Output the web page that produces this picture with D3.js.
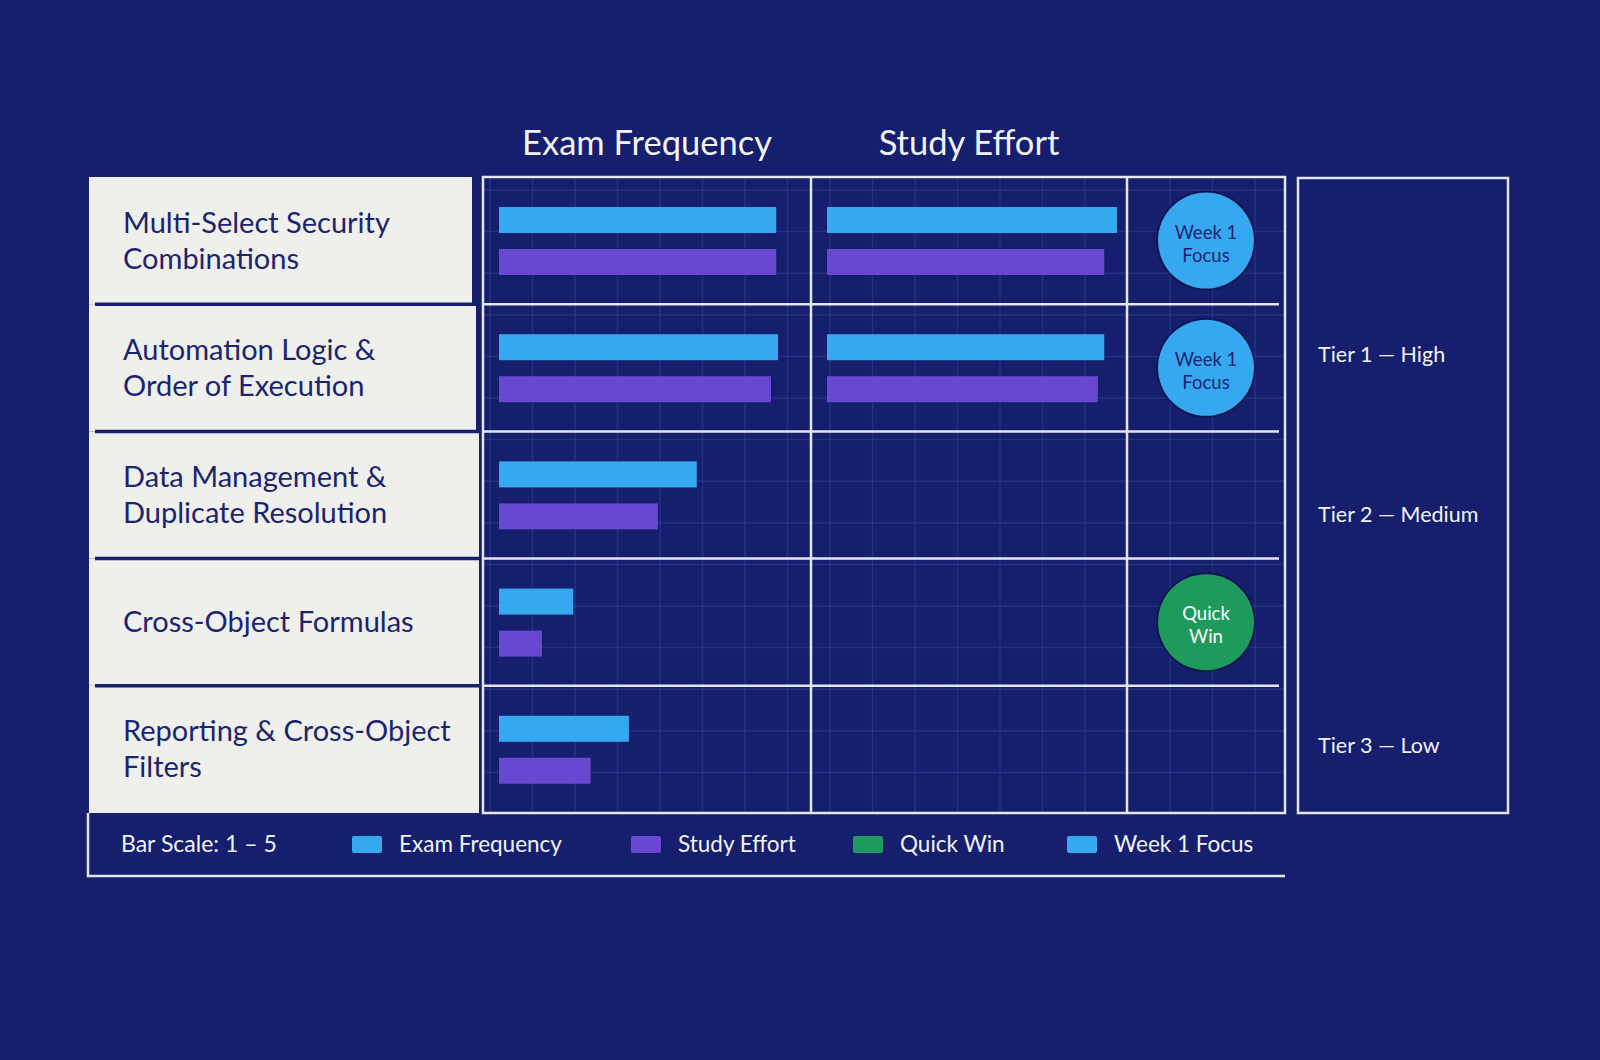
<!DOCTYPE html>
<html>
<head>
<meta charset="utf-8">
<script src="https://cdn.jsdelivr.net/npm/d3@7"></script>
<style>
  html, body { margin: 0; padding: 0; background: #151f6e; }
  #chart { width: 1600px; height: 1060px; }
</style>
</head>
<body>
<div id="chart"></div>
<script>

// ---- data ----
const topics = [
  ['Multi-Select Security', 'Combinations'],
  ['Automation Logic &', 'Order of Execution'],
  ['Data Management &', 'Duplicate Resolution'],
  ['Cross-Object Formulas'],
  ['Reporting & Cross-Object', 'Filters']
];
const columnTitles = ['Exam Frequency', 'Study Effort'];

// column "Exam Frequency": blue + purple bar per topic
const freqColBlue   = [4.78, 4.81, 3.41, 1.28, 2.24];
const freqColPurple = [4.78, 4.69, 2.74, 0.74, 1.58];
// column "Study Effort": only the first two topics have bars
const effortColBlue   = [5.00, 4.78, null, null, null];
const effortColPurple = [4.78, 4.67, null, null, null];

const badges = ['Week 1 Focus', 'Week 1 Focus', null, 'Quick Win', null];

const tiers      = ['Tier 1 \u2014 High', 'Tier 2 \u2014 Medium', 'Tier 3 \u2014 Low'];
const tierRowPos = [1.40, 2.66, 4.47];   // position in row units

const legendScaleText = 'Bar Scale: 1 \u2013 5';
const legendItems = ['Exam Frequency', 'Study Effort', 'Quick Win', 'Week 1 Focus'];

// ---- styling ----
const colors = {
  bg:     '#151f6e',
  line:   '#e4e7f2',
  card:   '#efefeb',
  ink:    '#1b2470',
  blue:   '#35a8f0',
  purple: '#6848d0',
  green:  '#1f9a5d',
  grid:   'rgba(120,140,230,0.16)'
};
const legendColors = [colors.blue, colors.purple, colors.green, colors.blue];
const badgeColors  = {'Week 1 Focus': colors.blue, 'Quick Win': colors.green};
const badgeText    = {'Week 1 Focus': colors.ink,  'Quick Win': '#ffffff'};
const fontFamily   = 'Lato, "Open Sans", sans-serif';

const width  = 1600;
const height = 1060;
const gridTop    = 177;
const gridBottom = 813;
const colEdges   = [483, 811, 1127, 1285];
const cardLeft   = 89;
const cardRights = [472, 476, 479, 479, 479];

const svg = d3.select('#chart')
  .append('svg')
  .attr('width', width)
  .attr('height', height)
  .style('font-family', fontFamily);

svg.append('rect')
  .attr('width', width).attr('height', height)
  .attr('fill', colors.bg);

let rowScale = d3.scaleBand()
  .domain(d3.range(topics.length))
  .range([gridTop, gridBottom]);

let barScale = d3.scaleLinear()
  .domain([0, 5])
  .range([0, 290]);

const bw = rowScale.bandwidth();

// faint background grid inside the matrix
let gridLayer = svg.append('g');
let vLines = d3.range(490, colEdges[3], 42.5);
let hLines = d3.range(190, gridBottom, 41.6);
gridLayer.selectAll('line.v').data(vLines).enter().append('line')
  .attr('x1', d => d).attr('x2', d => d)
  .attr('y1', gridTop).attr('y2', gridBottom)
  .attr('stroke', colors.grid).attr('stroke-width', 1.5);
gridLayer.selectAll('line.h').data(hLines).enter().append('line')
  .attr('x1', colEdges[0]).attr('x2', colEdges[3])
  .attr('y1', d => d).attr('y2', d => d)
  .attr('stroke', colors.grid).attr('stroke-width', 1.5);

// column titles
svg.selectAll('text.colTitle')
  .data(columnTitles)
  .enter()
  .append('text')
    .attr('x', (d, i) => (colEdges[i] + colEdges[i + 1]) / 2)
    .attr('y', 155)
    .attr('text-anchor', 'middle')
    .attr('fill', '#f2f3fa')
    .style('font-size', '34.5px')
    .text(d => d);

// label cards
let cards = svg.append('g');
cards.selectAll('rect')
  .data(topics)
  .enter()
  .append('rect')
    .attr('x', cardLeft)
    .attr('y', (d, i) => rowScale(i))
    .attr('width', (d, i) => cardRights[i] - cardLeft)
    .attr('height', bw)
    .attr('fill', colors.card);

cards.selectAll('line')
  .data(d3.range(1, topics.length))
  .enter()
  .append('line')
    .attr('x1', cardLeft + 6)
    .attr('x2', i => cardRights[i] + 2)
    .attr('y1', i => rowScale(i))
    .attr('y2', i => rowScale(i))
    .attr('stroke', colors.bg)
    .attr('stroke-width', 3.5);

const lineH = 36;
cards.selectAll('text')
  .data(topics)
  .enter()
  .append('text')
    .attr('fill', colors.ink)
    .style('font-size', '29px')
    .each(function(lines, i) {
      const cy = rowScale(i) + bw / 2;
      const firstBase = cy - (lines.length - 1) * lineH / 2 + 10;
      d3.select(this).selectAll('tspan')
        .data(lines)
        .enter()
        .append('tspan')
          .attr('x', 123)
          .attr('y', (l, j) => firstBase + j * lineH)
          .text(l => l);
    });

// matrix frame
let frame = svg.append('g')
  .attr('fill', 'none')
  .attr('stroke', colors.line)
  .attr('stroke-width', 2.5);

frame.selectAll('line.row')
  .data(d3.range(1, topics.length))
  .enter()
  .append('line')
    .attr('x1', colEdges[0]).attr('x2', colEdges[3] - 6)
    .attr('y1', i => rowScale(i)).attr('y2', i => rowScale(i));

frame.selectAll('line.col')
  .data([colEdges[1], colEdges[2]])
  .enter()
  .append('line')
    .attr('x1', d => d).attr('x2', d => d)
    .attr('y1', gridTop).attr('y2', gridBottom);

frame.append('rect')
  .attr('x', colEdges[0]).attr('y', gridTop)
  .attr('width', colEdges[3] - colEdges[0])
  .attr('height', gridBottom - gridTop);

// bars
function drawBars(values, colIndex, offset, color) {
  svg.append('g')
    .selectAll('rect')
    .data(values.map((v, i) => ({v, i})).filter(d => d.v !== null))
    .enter()
    .append('rect')
      .attr('x', colEdges[colIndex] + 16)
      .attr('y', d => rowScale(d.i) + offset)
      .attr('width', d => barScale(d.v))
      .attr('height', 26)
      .attr('fill', color);
}
drawBars(freqColBlue,     0, 30, colors.blue);
drawBars(freqColPurple,   0, 72, colors.purple);
drawBars(effortColBlue,   1, 30, colors.blue);
drawBars(effortColPurple, 1, 72, colors.purple);

// badges
let badgeData = badges.map((b, i) => ({b, i})).filter(d => d.b);
let badgeG = svg.append('g')
  .selectAll('g')
  .data(badgeData)
  .enter()
  .append('g')
    .attr('transform', d => `translate(${(colEdges[2] + colEdges[3]) / 2}, ${rowScale(d.i) + bw / 2})`);

badgeG.append('circle')
  .attr('r', 50)
  .attr('fill', 'rgba(0,0,30,0.35)');
badgeG.append('circle')
  .attr('r', 48)
  .attr('fill', d => badgeColors[d.b]);
badgeG.append('text')
  .attr('text-anchor', 'middle')
  .attr('fill', d => badgeText[d.b])
  .style('font-size', '18.5px')
  .each(function(d) {
    const words = d.b === 'Week 1 Focus' ? ['Week 1', 'Focus'] : ['Quick', 'Win'];
    d3.select(this).selectAll('tspan')
      .data(words)
      .enter()
      .append('tspan')
        .attr('x', 0)
        .attr('y', (w, j) => -2 + j * 23)
        .text(w => w);
  });

// tier panel
svg.append('rect')
  .attr('x', 1298).attr('y', gridTop + 1)
  .attr('width', 210).attr('height', gridBottom - gridTop - 1)
  .attr('fill', 'none')
  .attr('stroke', colors.line)
  .attr('stroke-width', 2.5);

svg.selectAll('text.tier')
  .data(tiers)
  .enter()
  .append('text')
    .attr('x', 1318)
    .attr('y', (d, i) => gridTop + tierRowPos[i] * bw + 7)
    .attr('fill', '#f2f3fa')
    .style('font-size', '21.5px')
    .text(d => d);

// legend
svg.append('path')
  .attr('d', `M${cardLeft - 1},${gridBottom} V876 H${colEdges[3]}`)
  .attr('fill', 'none')
  .attr('stroke', colors.line)
  .attr('stroke-width', 2.5);

svg.append('text')
  .attr('x', 121).attr('y', 852)
  .attr('fill', '#f2f3fa')
  .style('font-size', '23px')
  .text(legendScaleText);

const legendX = [352, 631, 853, 1067];
let legendG = svg.selectAll('g.legend')
  .data(legendItems)
  .enter()
  .append('g')
    .attr('transform', (d, i) => `translate(${legendX[i]}, 836)`);

legendG.append('rect')
  .attr('width', 30).attr('height', 17).attr('rx', 2)
  .attr('fill', (d, i) => legendColors[i]);
legendG.append('text')
  .attr('x', 47).attr('y', 16)
  .attr('fill', '#f2f3fa')
  .style('font-size', '22.5px')
  .text(d => d);

</script>
</body>
</html>
